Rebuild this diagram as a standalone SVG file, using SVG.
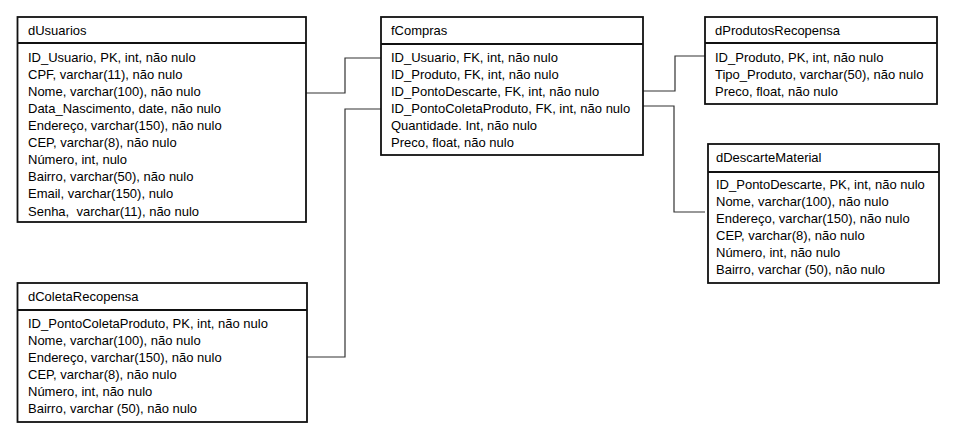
<svg xmlns="http://www.w3.org/2000/svg" width="955" height="445" viewBox="0 0 955 445">
<style>
.box{fill:#fff;stroke:#111;stroke-width:1.8}
.div{stroke:#111;stroke-width:1.8}
text{font-family:"Liberation Sans",Arial,sans-serif;font-size:13px;fill:#000}
.conn{fill:none;stroke:#333;stroke-width:1.2}
</style>
<rect width="955" height="445" fill="#fff"/>
<g id="connectors">
<path class="conn" d="M306,93 H345 V58 H381"/>
<path class="conn" d="M381,109 H345 V357 H307"/>
<path class="conn" d="M643,91 H675 V56 H705"/>
<path class="conn" d="M643,106 H674 V212 H705"/>
</g>
<g id="dUsuarios">
<rect class="box" x="17.5" y="17" width="288.5" height="205"/>
<line class="div" x1="17.5" y1="43" x2="306" y2="43"/>
<text x="28" y="35">dUsuarios</text>
<text x="28" y="62">ID_Usuario, PK, int, não nulo</text>
<text x="28" y="79">CPF, varchar(11), não nulo</text>
<text x="28" y="96">Nome, varchar(100), não nulo</text>
<text x="28" y="113">Data_Nascimento, date, não nulo</text>
<text x="28" y="130">Endereço, varchar(150), não nulo</text>
<text x="28" y="147">CEP, varchar(8), não nulo</text>
<text x="28" y="164">Número, int, nulo</text>
<text x="28" y="181">Bairro, varchar(50), não nulo</text>
<text x="28" y="198">Email, varchar(150), nulo</text>
<text x="28" y="216" xml:space="preserve">Senha,  varchar(11), não nulo</text>
</g>
<g id="fCompras">
<rect class="box" x="381" y="17" width="262" height="138"/>
<line class="div" x1="381" y1="44" x2="643" y2="44"/>
<text x="391" y="35">fCompras</text>
<text x="391" y="62">ID_Usuario, FK, int, não nulo</text>
<text x="391" y="79">ID_Produto, FK, int, não nulo</text>
<text x="391" y="96">ID_PontoDescarte, FK, int, não nulo</text>
<text x="391" y="113">ID_PontoColetaProduto, FK, int, não nulo</text>
<text x="391" y="130">Quantidade. Int, não nulo</text>
<text x="391" y="147">Preco, float, não nulo</text>
</g>
<g id="dProdutosRecopensa">
<rect class="box" x="705" y="17" width="232" height="87"/>
<line class="div" x1="705" y1="43" x2="937" y2="43"/>
<text x="715" y="35">dProdutosRecopensa</text>
<text x="715" y="62">ID_Produto, PK, int, não nulo</text>
<text x="715" y="79">Tipo_Produto, varchar(50), não nulo</text>
<text x="715" y="96">Preco, float, não nulo</text>
</g>
<g id="dDescarteMaterial">
<rect class="box" x="708" y="144" width="231" height="139"/>
<line class="div" x1="708" y1="172" x2="939" y2="172"/>
<text x="716" y="162">dDescarteMaterial</text>
<text x="716" y="189">ID_PontoDescarte, PK, int, não nulo</text>
<text x="716" y="206">Nome, varchar(100), não nulo</text>
<text x="716" y="223">Endereço, varchar(150), não nulo</text>
<text x="716" y="240">CEP, varchar(8), não nulo</text>
<text x="716" y="257">Número, int, não nulo</text>
<text x="716" y="274">Bairro, varchar (50), não nulo</text>
</g>
<g id="dColetaRecopensa">
<rect class="box" x="17.5" y="283" width="289.5" height="139"/>
<line class="div" x1="17.5" y1="310" x2="307" y2="310"/>
<text x="28" y="301">dColetaRecopensa</text>
<text x="28" y="328">ID_PontoColetaProduto, PK, int, não nulo</text>
<text x="28" y="345">Nome, varchar(100), não nulo</text>
<text x="28" y="362">Endereço, varchar(150), não nulo</text>
<text x="28" y="379">CEP, varchar(8), não nulo</text>
<text x="28" y="396">Número, int, não nulo</text>
<text x="28" y="413">Bairro, varchar (50), não nulo</text>
</g>
</svg>
